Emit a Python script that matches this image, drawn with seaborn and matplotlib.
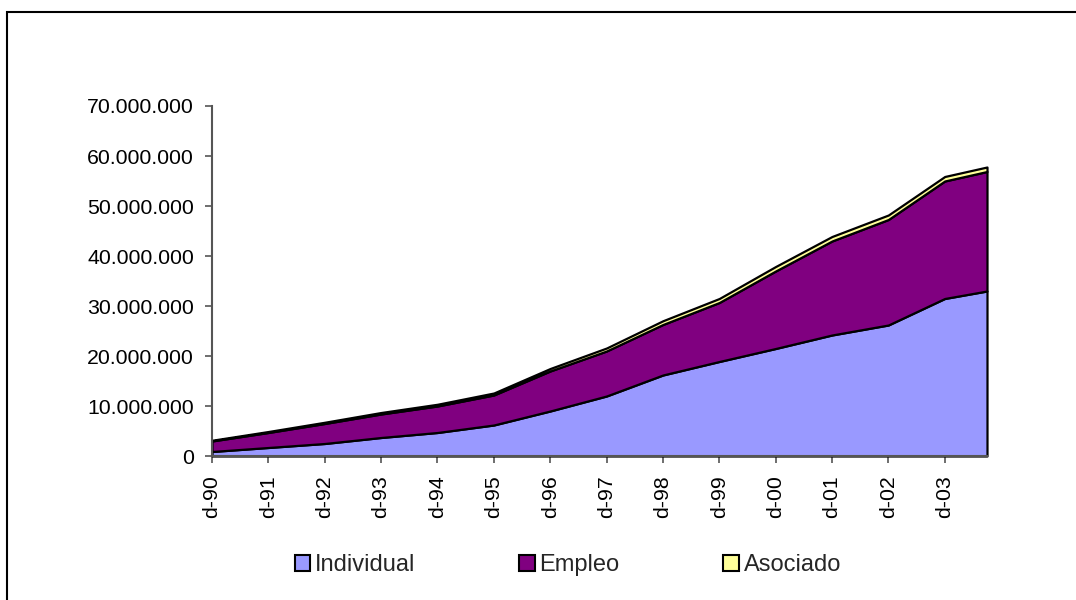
import seaborn as sns
import matplotlib.pyplot as plt
import matplotlib.patches as mpatches
from matplotlib.ticker import FuncFormatter
import numpy as np
import pandas as pd

# fechas (años desde dic-90); el último punto es sep-04
years = [0, 1, 2, 3, 4, 5, 6, 7, 8, 9, 10, 11, 12, 13, 13.75]
tick_labels = ['d-90', 'd-91', 'd-92', 'd-93', 'd-94', 'd-95', 'd-96',
               'd-97', 'd-98', 'd-99', 'd-00', 'd-01', 'd-02', 'd-03']

individual = [0.9, 1.7, 2.5, 3.7, 4.7, 6.2, 9.0, 12.0, 16.2, 18.9, 21.5, 24.2, 26.2, 31.5, 33.0]
empleo = [2.1, 3.0, 4.0, 4.7, 5.3, 6.0, 8.0, 9.0, 10.1, 11.8, 15.5, 18.8, 21.1, 23.5, 23.9]
asociado = [0.15, 0.2, 0.25, 0.3, 0.35, 0.4, 0.5, 0.6, 0.75, 0.8, 0.9, 0.9, 0.9, 0.9, 0.9]

colors = ['#9999FF', '#800080', '#FFFF99']
names = ['Individual', 'Empleo', 'Asociado']

sns.set_style("white")
plt.rcParams['font.family'] = ['Liberation Sans', 'DejaVu Sans']

df = pd.DataFrame({'x': years, 'Individual': individual, 'Empleo': empleo, 'Asociado': asociado})
df[names] = df[names] * 1e6

fig = plt.figure(figsize=(10.76, 6), dpi=100)
ax = fig.add_axes([212 / 1076, 1 - 456 / 600, (987 - 212) / 1076, 350 / 600])

polys = ax.stackplot(df['x'], df['Individual'], df['Empleo'], df['Asociado'],
                     colors=colors, edgecolor='black', linewidth=1.6)
for p in polys:
    p.set_clip_on(False)

ax.set_xlim(0, 13.75)
ax.set_ylim(0, 70e6)
ax.set_yticks(np.arange(0, 70e6 + 1, 10e6))
ax.yaxis.set_major_formatter(FuncFormatter(lambda v, p: f"{int(v):,}".replace(",", ".")))
ax.set_xticks(years[:-1])
ax.set_xticklabels(tick_labels, rotation=90)

sns.despine(ax=ax)
for s in ['left', 'bottom']:
    ax.spines[s].set_color('#555555')
    ax.spines[s].set_linewidth(1.5)
ax.tick_params(axis='both', direction='out', length=5, width=1.2, color='#555555',
               labelsize=15.3, labelcolor='black', bottom=True, left=True)
ax.tick_params(axis='y', pad=8)
ax.tick_params(axis='x', pad=9)

handles = [mpatches.Patch(facecolor=c, edgecolor='black', linewidth=1.5, label=n)
           for c, n in zip(colors, names)]
fig.legend(handles=handles, loc='center', bbox_to_anchor=(568 / 1076, 1 - 565 / 600),
           ncol=3, frameon=False, fontsize=17, handlelength=0.65, handleheight=0.65,
           handletextpad=0.2, columnspacing=4.4)

# marco del gráfico
fig.patches.append(mpatches.Rectangle((7 / 1076, -0.1), 2, 1 - 12 / 600 + 0.1,
                                      transform=fig.transFigure, fill=False,
                                      edgecolor='black', linewidth=1.5))

plt.savefig('out.png', dpi=100)
